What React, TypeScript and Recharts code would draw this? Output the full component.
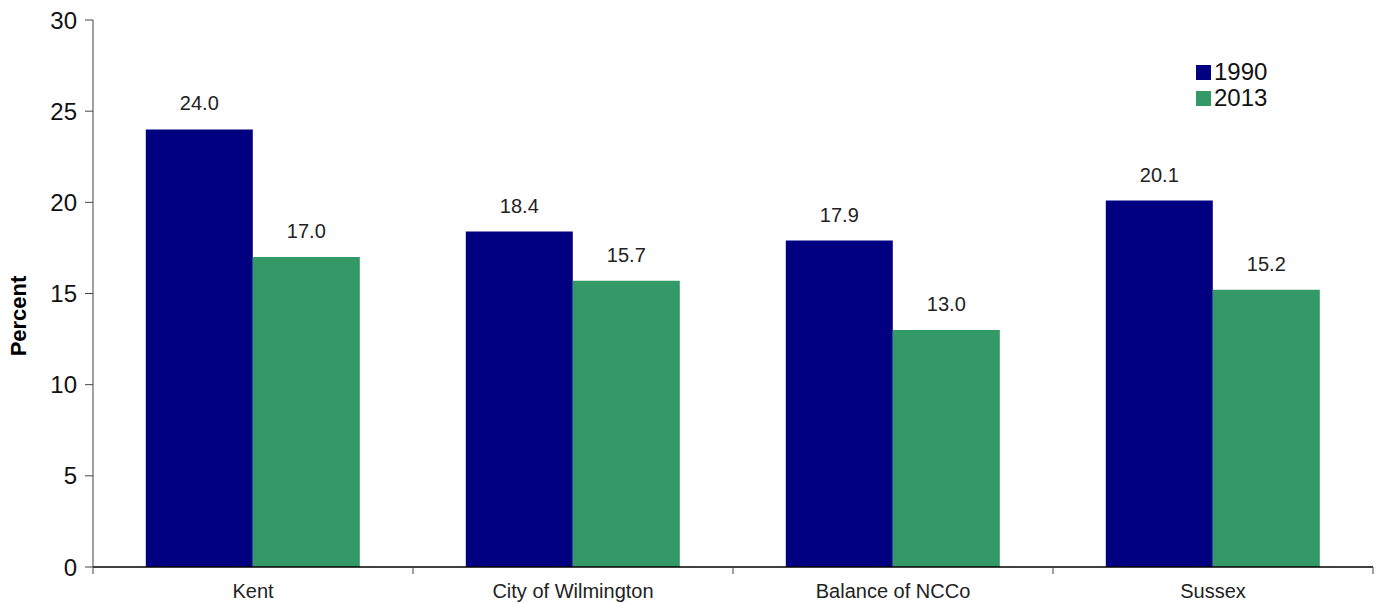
import React from 'react';
import { BarChart, Bar, XAxis, YAxis, LabelList } from 'recharts';

const categories = ['Kent', 'City of Wilmington', 'Balance of NCCo', 'Sussex'];
const values1990 = [24.0, 18.4, 17.9, 20.1];
const values2013 = [17.0, 15.7, 13.0, 15.2];
const yTicks = [0, 5, 10, 15, 20, 25, 30];

const series = [
  { key: 'y1990', name: '1990', color: '#000080' },
  { key: 'y2013', name: '2013', color: '#339966' },
];

const data = categories.map((name, i) => ({
  name,
  y1990: values1990[i],
  y2013: values2013[i],
}));

const font = '"Liberation Sans", Arial, sans-serif';

// category label plus the small tick marks on the category boundaries
function CategoryTick(props: any) {
  const { x, y, payload, index, width, visibleTicksCount } = props;
  const count = visibleTicksCount || categories.length;
  const half = (width || 1280) / count / 2;
  return (
    <g>
      <line x1={x - half} x2={x - half} y1={y} y2={y + 7} stroke="#444" />
      {index === count - 1 && <line x1={x + half} x2={x + half} y1={y} y2={y + 7} stroke="#444" />}
      <text x={x} y={y} dy={31} textAnchor="middle" fontFamily={font} fontSize={20} fill="#222">
        {payload.value}
      </text>
    </g>
  );
}

function LegendBox() {
  return (
    <div
      style={{
        position: 'absolute',
        left: 1196,
        top: 59,
        fontFamily: font,
        fontSize: 24,
        color: '#111',
        lineHeight: '26px',
      }}
    >
      {series.map((s) => (
        <div key={s.key} style={{ display: 'flex', alignItems: 'center' }}>
          <span
            style={{
              display: 'inline-block',
              width: 15,
              height: 15,
              background: s.color,
              marginRight: 3,
            }}
          />
          {s.name}
        </div>
      ))}
    </div>
  );
}

export default function App() {
  return (
    <div style={{ position: 'absolute', left: 0, top: 0, width: 1380, height: 603, background: '#fff' }}>
      <BarChart
        width={1380}
        height={603}
        data={data}
        margin={{ top: 20, right: 7, bottom: 0, left: 0 }}
        barCategoryGap="16.5%"
        barGap={0}
      >
        <XAxis
          dataKey="name"
          height={36}
          interval={0}
          tickLine={false}
          tickSize={0}
          tickMargin={0}
          axisLine={{ stroke: '#000', strokeWidth: 1.5 }}
          tick={<CategoryTick />}
        />
        <YAxis
          width={93}
          domain={[0, 30]}
          ticks={yTicks}
          interval={0}
          axisLine={{ stroke: '#444' }}
          tickLine={{ stroke: '#444' }}
          tickSize={8}
          tick={{ fontFamily: font, fontSize: 24, fill: '#111' }}
          tickMargin={8}
        />
        {series.map((s) => (
          <Bar key={s.key} dataKey={s.key} name={s.name} fill={s.color} isAnimationActive={false}>
            <LabelList
              dataKey={s.key}
              position="top"
              offset={19}
              formatter={(v: number) => v.toFixed(1)}
              style={{ fontFamily: font, fontSize: 20, fill: '#222' }}
            />
          </Bar>
        ))}
      </BarChart>
      <div
        style={{
          position: 'absolute',
          left: 19,
          top: 316,
          transform: 'translate(-50%, -50%) rotate(-90deg)',
          fontFamily: font,
          fontSize: 22,
          fontWeight: 'bold',
          color: '#000',
          whiteSpace: 'nowrap',
        }}
      >
        Percent
      </div>
      <LegendBox />
    </div>
  );
}
